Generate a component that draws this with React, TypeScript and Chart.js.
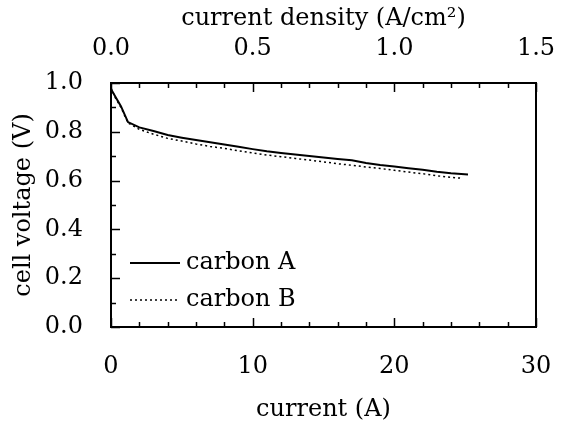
import React, { useEffect, useRef } from "react";
import { Chart, registerables } from "chart.js";

Chart.register(...registerables);

// ---- data ----
const currentA = [0, 0.3, 0.7, 1.2, 2, 3, 4, 5, 6, 7, 8, 9, 10, 11, 12, 13, 14, 15, 16, 17, 18, 19, 20, 21, 22, 23, 24, 25.2];
const voltageA = [0.975, 0.945, 0.905, 0.84, 0.818, 0.803, 0.787, 0.776, 0.766, 0.757, 0.748, 0.739, 0.729, 0.72, 0.713, 0.707, 0.701, 0.695, 0.689, 0.683, 0.672, 0.664, 0.658, 0.651, 0.644, 0.636, 0.63, 0.625];
const currentB = [0, 0.3, 0.7, 1.2, 2, 3, 4, 5, 6, 7, 8, 9, 10, 11, 12, 13, 14, 15, 16, 17, 18, 19, 20, 21, 22, 23, 24, 24.7];
const voltageB = [0.98, 0.94, 0.9, 0.836, 0.81, 0.79, 0.773, 0.762, 0.75, 0.74, 0.732, 0.722, 0.713, 0.705, 0.698, 0.691, 0.684, 0.677, 0.669, 0.663, 0.656, 0.65, 0.642, 0.635, 0.628, 0.62, 0.613, 0.61];
const seriesLabels = ["carbon A", "carbon B"];
const xTitle = "current (A)";
const x2Title = "current density (A/cm²)";
const yTitle = "cell voltage (V)";
const xRange = [0, 30];
const x2Range = [0, 1.5];
const yRange = [0, 1.0];

const FONT = "'DejaVu Serif', serif";
const FS = 24;

const isMult = (v: number, m: number) => Math.abs(v / m - Math.round(v / m)) < 1e-6;

const framePlugin = {
  id: "frame",
  afterDraw(chart: any) {
    const ctx = chart.ctx;
    const { left, right, top, bottom } = chart.chartArea;
    ctx.save();
    ctx.strokeStyle = "#000";
    ctx.lineWidth = 2;
    ctx.strokeRect(left, top, right - left, bottom - top);
    ctx.lineWidth = 1.5;
    const drawTicks = (scale: any, side: string) => {
      scale.ticks.forEach((t: any) => {
        const major = t.label !== "" && t.label !== undefined;
        const len = major ? 9 : 5;
        const p = Math.round(scale.getPixelForValue(t.value)) + 0.5;
        ctx.beginPath();
        if (side === "bottom") { ctx.moveTo(p, bottom); ctx.lineTo(p, bottom - len); }
        else if (side === "top") { ctx.moveTo(p, top); ctx.lineTo(p, top + len); }
        else { ctx.moveTo(left, p); ctx.lineTo(left + len, p); }
        ctx.stroke();
      });
    };
    drawTicks(chart.scales.x, "bottom");
    drawTicks(chart.scales.x2, "top");
    drawTicks(chart.scales.y, "left");

    // legend
    ctx.font = `${FS}px ${FONT}`;
    ctx.fillStyle = "#000";
    ctx.textBaseline = "middle";
    ctx.textAlign = "left";
    const rows = [bottom - 64, bottom - 27];
    chart.data.datasets.forEach((ds: any, i: number) => {
      const y = rows[i];
      ctx.save();
      ctx.lineWidth = ds.borderWidth;
      ctx.setLineDash(ds.borderDash || []);
      ctx.beginPath();
      ctx.moveTo(left + 19, y);
      ctx.lineTo(left + 69, y);
      ctx.stroke();
      ctx.restore();
      ctx.fillText(ds.label, left + 75, y);
    });
    ctx.restore();
  },
};

const noPad = (s: any) => {
  s.paddingLeft = 0;
  s.paddingRight = 0;
  s.paddingTop = 0;
  s.paddingBottom = 0;
};

export default function App() {
  const ref = useRef<HTMLCanvasElement | null>(null);
  useEffect(() => {
    if (!ref.current) return;
    const font = { family: FONT, size: FS, lineHeight: 1 };
    const chart = new Chart(ref.current, {
      type: "line",
      data: {
        datasets: [
          {
            label: seriesLabels[0],
            data: currentA.map((x, i) => ({ x, y: voltageA[i] })),
            borderColor: "#000",
            borderWidth: 2,
            pointRadius: 0,
            fill: false,
            tension: 0,
            xAxisID: "x",
            yAxisID: "y",
          },
          {
            label: seriesLabels[1],
            data: currentB.map((x, i) => ({ x, y: voltageB[i] })),
            borderColor: "#000",
            borderWidth: 1.5,
            borderDash: [2, 3],
            pointRadius: 0,
            fill: false,
            tension: 0,
            xAxisID: "x",
            yAxisID: "y",
          },
        ],
      },
      options: {
        animation: false,
        responsive: false,
        layout: { padding: { left: 0, right: 28, top: 0, bottom: 0 } },
        plugins: { legend: { display: false }, tooltip: { enabled: false } },
        scales: {
          x: {
            type: "linear",
            position: "bottom",
            min: xRange[0],
            max: xRange[1],
            grid: { display: false },
            border: { display: false },
            ticks: {
              stepSize: 2,
              autoSkip: false,
              maxRotation: 0,
              color: "#000",
              font,
              padding: 20,
              callback: (v: any) => (isMult(v, 10) ? String(Math.round(v)) : ""),
            },
            title: { display: true, text: xTitle, color: "#000", font, padding: { top: 0, bottom: 4 } },
            afterFit: (s: any) => { s.height = 99; noPad(s); },
          },
          x2: {
            type: "linear",
            position: "top",
            min: x2Range[0],
            max: x2Range[1],
            grid: { display: false },
            border: { display: false },
            ticks: {
              stepSize: 0.1,
              autoSkip: false,
              maxRotation: 0,
              color: "#000",
              font,
              padding: 14,
              callback: (v: any) => (isMult(v, 0.5) ? Number(v).toFixed(1) : ""),
            },
            title: { display: true, text: x2Title, color: "#000", font, padding: { top: 7, bottom: 0 } },
            afterFit: (s: any) => { s.height = 83; noPad(s); },
          },
          y: {
            type: "linear",
            position: "left",
            min: yRange[0],
            max: yRange[1],
            grid: { display: false },
            border: { display: false },
            ticks: {
              stepSize: 0.1,
              autoSkip: false,
              color: "#000",
              font,
              padding: 20,
              callback: (v: any) => (isMult(v, 0.2) ? Number(v).toFixed(1) : ""),
            },
            title: { display: true, text: yTitle, color: "#000", font, padding: { top: 12, bottom: 0 } },
            afterFit: (s: any) => { s.width = 111; noPad(s); },
          },
        },
      },
      plugins: [framePlugin],
    } as any);
    return () => chart.destroy();
  }, []);
  return (
    <div style={{ position: "absolute", left: 0, top: 0, width: 564, height: 426, background: "#fff" }}>
      <canvas ref={ref} width={564} height={426} />
    </div>
  );
}
